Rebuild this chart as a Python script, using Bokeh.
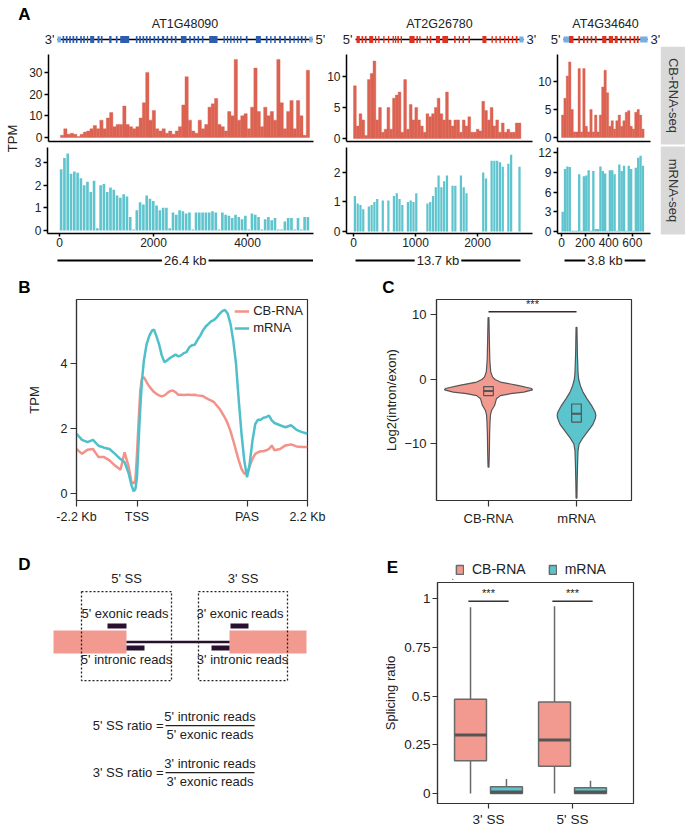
import math
from bokeh.plotting import figure
from bokeh.layouts import row, column
from bokeh.models import Range1d, FixedTicker, Legend, CustomJSTickFormatter
from bokeh.core.properties import value
from bokeh.embed import file_html
from bokeh.resources import INLINE

FONT = "Liberation Sans"
INK = "#222222"

# ---------------- Panel A data ----------------
GENE_NAMES = ["AT1G48090", "AT2G26780", "AT4G34640"]
GENE_LEN_KB = [26.4, 13.7, 3.8]
GENE_END_LABELS = [["3'", "5'"], ["5'", "3'"], ["5'", "3'"]]
SCALE_LABELS = ["26.4 kb", "13.7 kb", "3.8 kb"]

G1_EXON_START = [0.52, 0.86, 1.21, 1.55, 1.90, 2.35, 2.66, 3.04, 3.38, 4.14, 4.49, 5.35, 6.04, 6.49, 8.11,
                 8.45, 8.80, 9.14, 9.49, 9.94, 10.35, 10.80, 11.28, 11.73, 12.14, 12.77, 13.63, 14.08, 14.49,
                 14.94, 15.70, 17.18, 17.53, 17.87, 18.22, 18.56, 18.91, 19.49, 20.53, 21.56, 22.01, 22.43,
                 22.94, 23.46, 23.98, 24.43, 24.84, 25.19, 25.60]
G1_EXON_END = [0.69, 1.04, 1.38, 1.73, 2.07, 2.52, 2.83, 3.17, 3.80, 4.35, 4.66, 5.59, 6.21, 7.42, 8.28,
               8.63, 8.97, 9.32, 9.66, 10.11, 10.52, 11.04, 11.45, 11.90, 12.32, 13.35, 13.80, 14.25, 14.66,
               15.11, 16.56, 17.32, 17.66, 18.01, 18.35, 18.70, 19.04, 19.67, 21.05, 21.74, 22.15, 22.60,
               23.12, 23.63, 24.15, 24.56, 24.98, 25.36, 25.74]
G1_UTR_START = [0.0, 26.05]
G1_UTR_END = [0.35, 26.4]

G2_EXON_START = [0.08, 0.49, 0.76, 1.12, 1.58, 1.85, 2.26, 2.64, 3.02, 3.21, 3.41, 3.68, 4.39, 4.96, 5.20,
                 5.80, 6.05, 6.56, 7.08, 8.04, 8.42, 8.72, 9.21, 10.35, 11.09, 11.41, 11.74, 12.12, 12.42,
                 12.75, 13.07]
G2_EXON_END = [0.35, 0.63, 0.90, 1.44, 1.69, 1.96, 2.37, 2.75, 3.13, 3.32, 3.54, 3.79, 4.82, 5.09, 5.31,
               5.91, 6.18, 6.89, 7.55, 8.17, 8.53, 8.85, 9.34, 10.68, 11.20, 11.52, 11.85, 12.23, 12.53,
               12.86, 13.21]
G2_UTR_START = [13.37]
G2_UTR_END = [13.7]

G3_EXON_START = [0.25, 0.67, 0.88, 1.05, 1.23, 1.42, 1.75, 2.05, 2.32, 2.57, 2.77, 2.98, 3.17, 3.32]
G3_EXON_END = [0.45, 0.75, 0.96, 1.12, 1.30, 1.50, 1.94, 2.24, 2.45, 2.65, 2.84, 3.05, 3.25, 3.40]
G3_UTR_START = [0.0, 3.47]
G3_UTR_END = [0.25, 3.8]

# coverage (TPM) per bin along the transcript (nt)
CB1_BIN = 70
CB1 = [1, 4, 1.5, 2, 1.5, 0.5, 1.5, 2.5, 3, 4, 5.5, 4, 8, 4, 9, 11.5, 5, 6, 6, 14.5,
       6, 5, 4, 5, 9, 16, 30, 8, 12.5, 4, 3, 4, 2, 3, 1.5, 3, 5, 15, 28, 8,
       3, 2, 8, 4, 6, 14, 15.5, 18, 6, 5, 3, 12, 10, 36, 8, 10, 11, 4, 14, 32,
       12, 5, 14, 10, 12, 8, 36, 16, 4, 12, 17, 4, 17, 10, 1, 31]
MR1 = [2.7, 3.2, 3.4, 2.5, 2.6, 2.55, 2.3, 2.0, 2.15, 1.7, 2.2, 0.1, 2.0, 2.05, 1.7, 1.9, 1.8, 1.55, 1.45, 1.6,
       1.5, 0.6, 0.05, 0.9, 1.25, 1.15, 1.55, 1.4, 1.3, 1.1, 0.9, 1.0, 1.0, 0.1, 0.8, 0.7, 0.9, 0.85, 0.75, 0.8,
       0.05, 0.8, 0.8, 0.8, 0.8, 0.8, 0.85, 0.8, 0.05, 0.8, 0.7, 0.65, 0.55, 0.7, 0.6, 0.5, 0.65, 0.05, 0.75, 0.7,
       0.6, 0.05, 0.5, 0.6, 0.45, 0.55, 0.05, 0.05, 0.4, 0.55, 0.55, 0.05, 0.55, 0.05, 0.6, 0.6]
CB2_BIN = 45
CB2 = [8.5, 2, 4, 3, 0.5, 9.5, 10.5, 12.5, 3, 5, 1, 1.5, 5, 1.5, 6.5, 7, 7.5, 1, 9.5, 1.5,
       5.5, 3, 5, 3, 2, 1, 4, 3.5, 4, 5, 6.5, 4, 3, 7.5, 3, 2, 3, 3, 1, 3,
       2, 3.5, 1, 1, 1.5, 1.2, 6, 4.5, 3, 5, 2, 3, 1, 2.5, 1, 1.5, 1, 1, 2.5, 2.5]
MR2 = [1.2, 0.95, 0.9, 0.75, 0, 0.85, 0.9, 1.0, 1.1, 0, 1.05, 0, 1.05, 0, 1.2, 1.3, 1.1, 0.9, 0, 1.0,
       1.05, 1.0, 1.3, 0, 0, 0, 0.95, 1.0, 1.2, 1.5, 1.9, 1.5, 1.7, 1.9, 0, 1.55, 1.55, 0, 1.9, 1.5,
       1.3, 0, 0, 0, 0, 0, 2.0, 1.8, 0, 2.4, 2.4, 2.4, 2.35, 2.2, 0, 2.3, 2.6, 0, 0, 2.2]
CB3_BIN = 20
CB3 = [4, 7, 11, 13.5, 5, 1, 1, 12.3, 1, 12.3, 2, 1, 5, 1, 4, 1, 4, 9, 12, 8,
       2, 3, 1.5, 3, 4, 2, 3, 4.5, 4.8, 2, 1.5, 4.5, 5, 4, 1.5]
MR3 = [3, 9.5, 9.9, 9.8, 0.1, 0.1, 0.1, 8.7, 0.1, 8.4, 8.5, 9.3, 0.1, 9.2, 0.4, 0.4, 9.9, 9.2, 8.8, 0.1,
       9.3, 9.3, 8.7, 0.1, 10.2, 9.2, 10.0, 0.1, 10.0, 9.5, 0.1, 9.7, 11.2, 11.5, 10.0]

CB_TICKS = [[0, 10, 20, 30], [0, 5, 10], [0, 5, 10]]
MR_TICKS = [[0, 1, 2, 3], [0, 1, 2], [0, 3, 6, 9, 12]]
X_TICKS = [[0, 2000, 4000], [0, 1000, 2000], [0, 200, 400, 600]]
STRIP_LABELS = ["CB-RNA-seq", "mRNA-seq"]

# ---------------- Panel B data ----------------
B_POS = [-2200, -2000, -1800, -1600, -1400, -1200, -1000, -800, -600, -450, -300, -200, -120, -60,
         0, 60, 120, 180, 250, 350, 450, 550, 620, 700,
         800, 900, 1000, 1100, 1200, 1300, 1400, 1500, 1600, 1700, 1800, 1900, 2000, 2100, 2200, 2300,
         2400, 2500, 2600, 2700, 2800, 2900, 3000, 3100, 3200, 3300, 3400, 3500, 3600, 3700, 3800, 3900,
         4000, 4080, 4200, 4300, 4400, 4500, 4600, 4700, 4800, 4900, 5000, 5200, 5400, 5600, 5800, 6000, 6200]
B_MRNA = [1.84, 1.65, 1.58, 1.65, 1.47, 1.41, 1.37, 1.22, 1.06, 0.96, 0.61, 0.25, 0.07, 0.14,
          0.5, 1.63, 2.65, 3.47, 4.09, 4.6, 4.86, 5.02, 5.04, 4.86,
          4.6, 4.25, 4.04, 4.1, 4.17, 4.22, 4.28, 4.22, 4.25, 4.32, 4.35, 4.5, 4.56, 4.58, 4.73, 4.86,
          5.02, 5.14, 5.22, 5.3, 5.34, 5.42, 5.53, 5.61, 5.65, 5.53, 5.22, 4.71, 4.0, 2.87, 1.84, 1.02,
          0.5, 0.8, 1.63, 2.14, 2.27, 2.27, 2.33, 2.35, 2.4, 2.25, 2.17, 2.1, 2.04, 2.1, 1.96, 1.89, 1.84]
B_CB = [1.37, 1.22, 1.35, 1.37, 1.12, 1.12, 1.02, 0.86, 0.73, 1.27, 0.81, 0.35, 0.31, 0.4,
        1.22, 2.25, 3.17, 3.53, 3.58, 3.43, 3.29, 3.19, 3.12, 3.07,
        3.02, 2.99, 3.02, 3.09, 3.15, 3.17, 3.12, 3.04, 3.04, 3.03, 3.04, 3.04, 3.03, 3.04, 3.02, 3.01,
        3.0, 2.94, 2.9, 2.86, 2.81, 2.71, 2.61, 2.47, 2.33, 2.15, 1.92, 1.63, 1.32, 1.02, 0.76, 0.61,
        0.63, 0.81, 1.07, 1.22, 1.27, 1.3, 1.3, 1.33, 1.37, 1.48, 1.33, 1.37, 1.48, 1.51, 1.45, 1.43, 1.43]
B_TICKS = [-2200, 0, 4000, 6200]
B_TICK_LABELS = ["-2.2 Kb", "TSS", "PAS", "2.2 Kb"]

# ---------------- Panel C data ----------------
C_GROUPS = ["CB-RNA", "mRNA"]
C_CB_Y = [9.6, 6, 3, 1.2, 0.4, 0, -0.4, -0.9, -1.4, -1.6, -1.95, -2.2, -2.5, -3.0, -3.5, -4.0, -4.8, -5.5,
          -6.5, -8.5, -11.0, -13.6]
C_CB_DENS = [0.01, 0.02, 0.03, 0.05, 0.09, 0.15, 0.27, 0.66, 0.98, 1.0, 0.8, 0.5, 0.27, 0.18, 0.16, 0.14,
             0.07, 0.045, 0.035, 0.025, 0.02, 0.01]
C_MR_Y = [8.1, 4, 1, 0, -1, -2, -3, -4, -5, -5.5, -6, -7, -8, -9, -10, -11, -13, -16, -18.4]
C_MR_DENS = [0.01, 0.02, 0.035, 0.05, 0.09, 0.15, 0.24, 0.34, 0.42, 0.44, 0.43, 0.37, 0.26, 0.15, 0.06,
             0.035, 0.025, 0.015, 0.01]
C_Q1 = [-2.5, -6.6]
C_MED = [-1.8, -5.3]
C_Q3 = [-1.1, -3.8]

# ---------------- Panel E data ----------------
E_SITES = ["3' SS", "5' SS"]
E_SERIES = ["CB-RNA", "mRNA"]
E_CB_LO = [0.0, 0.0]
E_CB_Q1 = [0.168, 0.14]
E_CB_MED = [0.30, 0.275]
E_CB_Q3 = [0.483, 0.47]
E_CB_HI = [0.955, 0.96]
E_MR_LO = [0.0, 0.0]
E_MR_Q1 = [0.0, 0.0]
E_MR_MED = [0.008, 0.008]
E_MR_Q3 = [0.035, 0.03]
E_MR_HI = [0.075, 0.065]
E_TICKS = [0, 0.25, 0.5, 0.75, 1]

# ---------------- Panel D schematic (diagram units) ----------------
D_EXON_L = [0, 1760]
D_EXON_R = [730, 2530]
D_INTRON = [730, 1760]
D_EXONIC_READ_L = [540, 1770]
D_EXONIC_READ_R = [730, 1950]
D_INTRONIC_READ_L = [730, 1580]
D_INTRONIC_READ_R = [910, 1760]
D_WIN_L = [280, 1450]
D_WIN_R = [1180, 2340]
D_WIN_NAMES = ["5' SS", "3' SS"]
D_TOP_LABELS = ["5' exonic reads", "3' exonic reads"]
D_BOTTOM_LABELS = ["5' intronic reads", "3' intronic reads"]
D_RATIO_NAMES = ["5' SS ratio =", "3' SS ratio ="]
D_NUMS = ["5' intronic reads", "3' intronic reads"]
D_DENS = ["5' exonic reads", "3' exonic reads"]

# ---------------- colours ----------------
COL_CB_TRACK = "#dc6251"
COL_MR_TRACK = "#5fc4ce"
COL_G1 = "#2e5daf"
COL_G23 = "#e2301e"
COL_UTR = "#74aee2"
COL_CB = "#f29a90"
COL_MR = "#5bc4cd"
COL_CB_LINE = "#f3928a"
COL_MR_LINE = "#4fbfca"
DARK = "#2a1030"
BOXLINE = "#6a6a6a"


def txt(p, x, y, t, size="13px", align="center", baseline="middle", color=INK, style="normal", angle=0, **kw):
    return p.text(x=x, y=y, text=t, text_font=value(FONT), text_font_size=size, text_align=align,
                  text_baseline=baseline, text_color=color, text_font_style=style, angle=angle, **kw)


def canvas(w, h, xr, yr, **kw):
    p = figure(width=w, height=h, x_range=Range1d(*xr), y_range=Range1d(*yr), x_axis_type=None,
               y_axis_type=None, tools="", toolbar_location=None, output_backend="svg", **kw)
    p.outline_line_color = None
    p.background_fill_color = "white"
    p.border_fill_color = "white"
    return p


def style_axis(ax, size="12px", tick_out=4, standoff=2, lw=1.5, color="black"):
    ax.axis_line_width = lw
    ax.axis_line_color = color
    ax.major_tick_line_color = color
    ax.major_tick_line_width = lw
    ax.major_tick_in = 0
    ax.major_tick_out = tick_out
    ax.minor_tick_line_color = None
    ax.major_label_text_font = FONT
    ax.major_label_text_font_size = size
    ax.major_label_text_color = INK
    ax.major_label_standoff = standoff
    ax.axis_label_text_font = FONT
    ax.axis_label_text_font_style = "normal"
    ax.axis_label_text_color = INK


# ======================= PANEL A =======================
MODEL_W = [337, 211, 137]
MODEL_XR = [(-5.90, 28.98), (-1.47, 15.74), (-0.68, 5.52)]
exon_s = [G1_EXON_START, G2_EXON_START, G3_EXON_START]
exon_e = [G1_EXON_END, G2_EXON_END, G3_EXON_END]
utr_s = [G1_UTR_START, G2_UTR_START, G3_UTR_START]
utr_e = [G1_UTR_END, G2_UTR_END, G3_UTR_END]
exon_col = [COL_G1, COL_G23, COL_G23]

models = []
for k in range(3):
    p = canvas(MODEL_W[k], 46, MODEL_XR[k], (-7, 39), min_border=0)
    L = GENE_LEN_KB[k]
    p.segment(x0=[0], y0=[0], x1=[L], y1=[0], line_color="black", line_width=1.5)
    p.quad(left=exon_s[k], right=exon_e[k], bottom=-3.5, top=3.5, fill_color=exon_col[k], line_color=None)
    p.quad(left=utr_s[k], right=utr_e[k], bottom=-3, top=3, fill_color=COL_UTR, line_color=None)
    txt(p, [0], [0], [GENE_END_LABELS[k][0]], size="13px", align="right", x_offset=-3)
    txt(p, [L], [0], [GENE_END_LABELS[k][1]], size="13px", align="left", x_offset=3)
    txt(p, [L / 2], [16], [GENE_NAMES[k]], size="12.5px")
    if k == 0:
        txt(p, [MODEL_XR[0][0]], [25], ["A"], size="17px", style="bold", color="black", x_offset=24)
    models.append(p)

TRACK_ML = [21, 24, 22]
TRACK_MR = [9, 3, 10]
TRACK_FW = [266, 186, 93]
TRACK_XR = [(-255.3, 5404.3), (-112.9, 2887.1), (-33.9, 754.2)]
CB_YR = [(-1.84, 38.25), (-0.48, 13.55), (-0.71, 14.82)]
MR_YR = [(-0.13, 3.66), (-0.07, 2.85), (-0.30, 12.77)]
SB_XR = [(-1.03, 26.45), (-0.75, 14.70), (-0.33, 4.04)]
cb_vals = [CB1, CB2, CB3]
mr_vals = [MR1, MR2, MR3]
bins = [CB1_BIN, CB2_BIN, CB3_BIN]
mr_fill = [0.8, 0.8, 1.0]


def track_fig(k, vals, yr, yticks, is_cb):
    w = TRACK_ML[k] + TRACK_FW[k] + TRACK_MR[k]
    h = 99 if is_cb else 107
    p = figure(width=w, height=h, x_range=Range1d(*TRACK_XR[k]), y_range=Range1d(*yr), tools="",
               toolbar_location=None, output_backend="svg", min_border_left=TRACK_ML[k],
               min_border_right=TRACK_MR[k], min_border_top=(8 if is_cb else 2),
               min_border_bottom=(4 if is_cb else 19))
    p.grid.visible = False
    p.outline_line_color = None
    binw = bins[k]
    xs = [binw * (i + 0.5) for i in range(len(vals))]
    if is_cb:
        p.vbar(x=xs, top=vals, bottom=0, width=binw, fill_color=COL_CB_TRACK, line_color=COL_CB_TRACK,
               line_width=0.4)
    else:
        p.vbar(x=xs, top=vals, bottom=0, width=binw * mr_fill[k], fill_color=COL_MR_TRACK, line_color=None)
    p.yaxis.ticker = FixedTicker(ticks=yticks)
    style_axis(p.yaxis[0], size="12px", tick_out=4, standoff=2)
    style_axis(p.xaxis[0], size="12px", tick_out=3, standoff=1)
    if is_cb:
        p.xaxis.ticker = FixedTicker(ticks=[])
        p.xaxis.major_tick_out = 0
        p.xaxis.major_label_standoff = 0
    else:
        p.xaxis.ticker = FixedTicker(ticks=X_TICKS[k])
    return p


cb_figs = [track_fig(k, cb_vals[k], CB_YR[k], CB_TICKS[k], True) for k in range(3)]
mr_figs = [track_fig(k, mr_vals[k], MR_YR[k], MR_TICKS[k], False) for k in range(3)]

sb_figs = []
for k in range(3):
    w = TRACK_ML[k] + TRACK_FW[k] + TRACK_MR[k]
    p = canvas(w, 20, SB_XR[k], (-1.2, 0.8), min_border_left=TRACK_ML[k], min_border_right=TRACK_MR[k],
               min_border_top=0, min_border_bottom=0)
    L = GENE_LEN_KB[k]
    p.segment(x0=[0], y0=[0], x1=[L], y1=[0], line_color="black", line_width=2)
    txt(p, [L / 2], [0], [SCALE_LABELS[k]], size="13px", background_fill_color="white", padding=2)
    sb_figs.append(p)

left_strip = canvas(26, 226, (0, 26), (0, 226), min_border=0)
txt(left_strip, [12], [134], ["TPM"], size="13px", angle=math.pi / 2)

strip = canvas(25, 226, (0, 1), (0, 226), min_border=0)
strip.quad(left=[0, 0], right=[1, 1], bottom=[128, 38], top=[226, 126], fill_color="#d9d9d9", line_color=None)
txt(strip, [0.5, 0.5], [177, 82], STRIP_LABELS, size="13px", color="#333333", angle=-math.pi / 2)

panelA = column(row(*models),
                row(left_strip, column(row(*cb_figs), row(*mr_figs), row(*sb_figs)), strip))

# ======================= header for B / C =======================
hdrBC = canvas(685, 25, (0, 685), (0, 25), min_border=0)
txt(hdrBC, [24, 388], [10, 10], ["B", "C"], size="17px", style="bold", color="black")

# ======================= PANEL B =======================
pB = figure(width=335, height=233, x_range=Range1d(-2200, 6200), y_range=Range1d(-0.215, 5.97), tools="",
            toolbar_location=None, output_backend="svg", min_border_left=76, min_border_right=28,
            min_border_top=2, min_border_bottom=30)
pB.grid.visible = False
pB.outline_line_color = "#333333"
pB.outline_line_width = 1.2
rB_cb = pB.line(B_POS, B_CB, line_color=COL_CB_LINE, line_width=2.5)
rB_mr = pB.line(B_POS, B_MRNA, line_color=COL_MR_LINE, line_width=2.5)
pB.xaxis.ticker = FixedTicker(ticks=B_TICKS)
pB.xaxis.major_label_overrides = dict(zip(B_TICKS, B_TICK_LABELS))
pB.yaxis.ticker = FixedTicker(ticks=[0, 2, 4])
pB.yaxis.axis_label = "TPM"
for ax in (pB.xaxis[0], pB.yaxis[0]):
    style_axis(ax, size="12.5px", tick_out=6, standoff=3, lw=1.2, color="#333333")
pB.yaxis.axis_label_text_font_size = "13px"
pB.yaxis.axis_label_standoff = 16
legB = Legend(items=[("CB-RNA", [rB_cb]), ("mRNA", [rB_mr])], location="top_right", border_line_color=None,
              background_fill_alpha=0, padding=0, margin=4, spacing=2, label_standoff=4, glyph_width=15,
              glyph_height=14, label_height=14, label_text_font=FONT, label_text_font_size="13px",
              label_text_color=INK)
pB.add_layout(legB)

# ======================= PANEL C =======================
pC = figure(width=350, height=233, x_range=Range1d(0.409, 2.625), y_range=Range1d(-18.76, 12.4), tools="",
            toolbar_location=None, output_backend="svg", min_border_left=101, min_border_right=54,
            min_border_top=2, min_border_bottom=30)
pC.grid.visible = False
pC.outline_line_color = "#333333"
pC.outline_line_width = 1.2
VIOLIN_HALF = 0.5
for ci, (ys, ds, col) in enumerate([(C_CB_Y, C_CB_DENS, COL_CB), (C_MR_Y, C_MR_DENS, COL_MR)]):
    cx = ci + 1
    xs = [cx + VIOLIN_HALF * d for d in ds] + [cx - VIOLIN_HALF * d for d in ds[::-1]]
    yy = list(ys) + list(ys[::-1])
    pC.patch(xs, yy, fill_color=col, line_color="#555555", line_width=1.2)
pC.vbar(x=[1, 2], bottom=C_Q1, top=C_Q3, width=0.11, fill_color=[COL_CB, COL_MR], line_color="#555555",
        line_width=1.2)
pC.segment(x0=[0.945, 1.945], x1=[1.055, 2.055], y0=C_MED, y1=C_MED, line_color="#555555", line_width=2)
pC.segment(x0=[1], x1=[2], y0=[10.5], y1=[10.5], line_color="#3a2a2a", line_width=1.6)
txt(pC, [1.5], [10.7], ["***"], size="11px", baseline="bottom")
pC.xaxis.ticker = FixedTicker(ticks=[1, 2])
pC.xaxis.major_label_overrides = {1: C_GROUPS[0], 2: C_GROUPS[1]}
pC.yaxis.ticker = FixedTicker(ticks=[-10, 0, 10])
pC.yaxis.axis_label = "Log2(intron/exon)"
for ax in (pC.xaxis[0], pC.yaxis[0]):
    style_axis(ax, size="13px", tick_out=6, standoff=4, lw=1.2, color="#333333")
pC.yaxis.axis_label_text_font_size = "13px"
pC.yaxis.axis_label_standoff = 2

# ======================= PANEL D =======================
pD = canvas(340, 299, (-530, 2870), (-16.30, 9.70), min_border=0)
pD.quad(left=D_EXON_L, right=D_EXON_R, bottom=-1, top=1, fill_color=COL_CB, line_color=None)
pD.segment(x0=[D_INTRON[0]], x1=[D_INTRON[1]], y0=[0], y1=[0], line_color=DARK, line_width=2.5)
pD.quad(left=D_EXONIC_READ_L, right=D_EXONIC_READ_R, bottom=1.17, top=1.61, fill_color=DARK, line_color=None)
pD.quad(left=D_INTRONIC_READ_L, right=D_INTRONIC_READ_R, bottom=-0.74, top=-0.30, fill_color=DARK,
        line_color=None)
pD.quad(left=D_WIN_L, right=D_WIN_R, bottom=-3.35, top=4.39, fill_color=None, line_color="#222222",
        line_width=1.3, line_dash="2 2")
txt(pD, [(a + b) / 2 for a, b in zip(D_WIN_L, D_WIN_R)], [5.52, 5.52], D_WIN_NAMES, size="13px")
txt(pD, [715, 1865], [2.48, 2.48], D_TOP_LABELS, size="13px")
txt(pD, [730, 1890], [-1.52, -1.52], D_BOTTOM_LABELS, size="13px")
txt(pD, [1100, 1100], [-7.26, -11.35], D_RATIO_NAMES, size="13px", align="right")
pD.segment(x0=[1120, 1120], x1=[2010, 2010], y0=[-7.26, -11.35], y1=[-7.26, -11.35], line_color="#222222",
           line_width=1.3)
txt(pD, [1565, 1565], [-6.48, -10.57], D_NUMS, size="13px")
txt(pD, [1565, 1565], [-8.04, -12.13], D_DENS, size="13px")
txt(pD, [-290], [6.74], ["D"], size="17px", style="bold", color="black")

# ======================= PANEL E =======================
hE1 = canvas(112, 50, (0, 112), (0, 50), min_border=0)
txt(hE1, [52], [13], ["E"], size="17px", style="bold", color="black")
hE2 = canvas(233, 50, (0, 233), (0, 50), min_border=0)
# off-canvas swatches, used only to draw the legend icons
lg_cb = hE2.vbar(x=[-50], top=[1], bottom=[0], width=9, fill_color=COL_CB, line_color=BOXLINE, line_width=1.5)
lg_mr = hE2.vbar(x=[-50], top=[1], bottom=[0], width=9, fill_color=COL_MR, line_color=BOXLINE, line_width=1.5)
legE = Legend(items=[(E_SERIES[0], [lg_cb]), (E_SERIES[1], [lg_mr])], location="bottom_left",
              orientation="horizontal", border_line_color=None, background_fill_alpha=0, padding=0, margin=3,
              spacing=22, label_standoff=8, glyph_width=9, glyph_height=11, label_height=14,
              label_text_font=FONT, label_text_font_size="14px", label_text_color=INK)
hE2.add_layout(legE)

pE = figure(width=345, height=249, x_range=Range1d(0.393, 2.726), y_range=Range1d(-0.051, 1.082), tools="",
            toolbar_location=None, output_backend="svg", min_border_left=97, min_border_right=52,
            min_border_top=2, min_border_bottom=25)
pE.grid.visible = False
pE.outline_line_color = "#333333"
pE.outline_line_width = 1.2
OFF = 0.214
BOXW = 0.38
xcb = [g + 1 - OFF for g in range(2)]
xmr = [g + 1 + OFF for g in range(2)]
for xs_, lo, q1, q3, hi in [(xcb, E_CB_LO, E_CB_Q1, E_CB_Q3, E_CB_HI), (xmr, E_MR_LO, E_MR_Q1, E_MR_Q3, E_MR_HI)]:
    pE.segment(x0=xs_, x1=xs_, y0=lo, y1=q1, line_color=BOXLINE, line_width=1.5)
    pE.segment(x0=xs_, x1=xs_, y0=q3, y1=hi, line_color=BOXLINE, line_width=1.5)
pE.vbar(x=xcb, bottom=E_CB_Q1, top=E_CB_Q3, width=BOXW, fill_color=COL_CB, line_color=BOXLINE, line_width=1.5)
pE.vbar(x=xmr, bottom=E_MR_Q1, top=E_MR_Q3, width=BOXW, fill_color=COL_MR, line_color=BOXLINE, line_width=1.5)
pE.segment(x0=[x - BOXW / 2 for x in xcb], x1=[x + BOXW / 2 for x in xcb], y0=E_CB_MED, y1=E_CB_MED,
           line_color="#555555", line_width=3)
pE.segment(x0=[x - BOXW / 2 for x in xmr], x1=[x + BOXW / 2 for x in xmr], y0=E_MR_MED, y1=E_MR_MED,
           line_color="#555555", line_width=3)
pE.segment(x0=[0.76, 1.76], x1=[1.24, 2.24], y0=[0.986, 0.986], y1=[0.986, 0.986], line_color="#333333",
           line_width=1.5)
txt(pE, [1.0, 2.0], [0.995, 0.995], ["***", "***"], size="11px", baseline="bottom")
pE.xaxis.ticker = FixedTicker(ticks=[1, 2])
pE.xaxis.major_label_overrides = {1: E_SITES[0], 2: E_SITES[1]}
pE.yaxis.ticker = FixedTicker(ticks=E_TICKS)
pE.yaxis.formatter = CustomJSTickFormatter(code="return String(tick);")
pE.yaxis.axis_label = "Splicing ratio"
for ax in (pE.xaxis[0], pE.yaxis[0]):
    style_axis(ax, size="13.5px", tick_out=5, standoff=2, lw=1.2, color="#333333")
pE.xaxis.major_label_standoff = 3
pE.yaxis.axis_label_text_font_size = "13px"
pE.yaxis.axis_label_standoff = 3

layout = column(panelA, hdrBC, row(pB, pC), row(pD, column(row(hE1, hE2), pE)))

open("out.html", "w").write(file_html(layout, INLINE))
